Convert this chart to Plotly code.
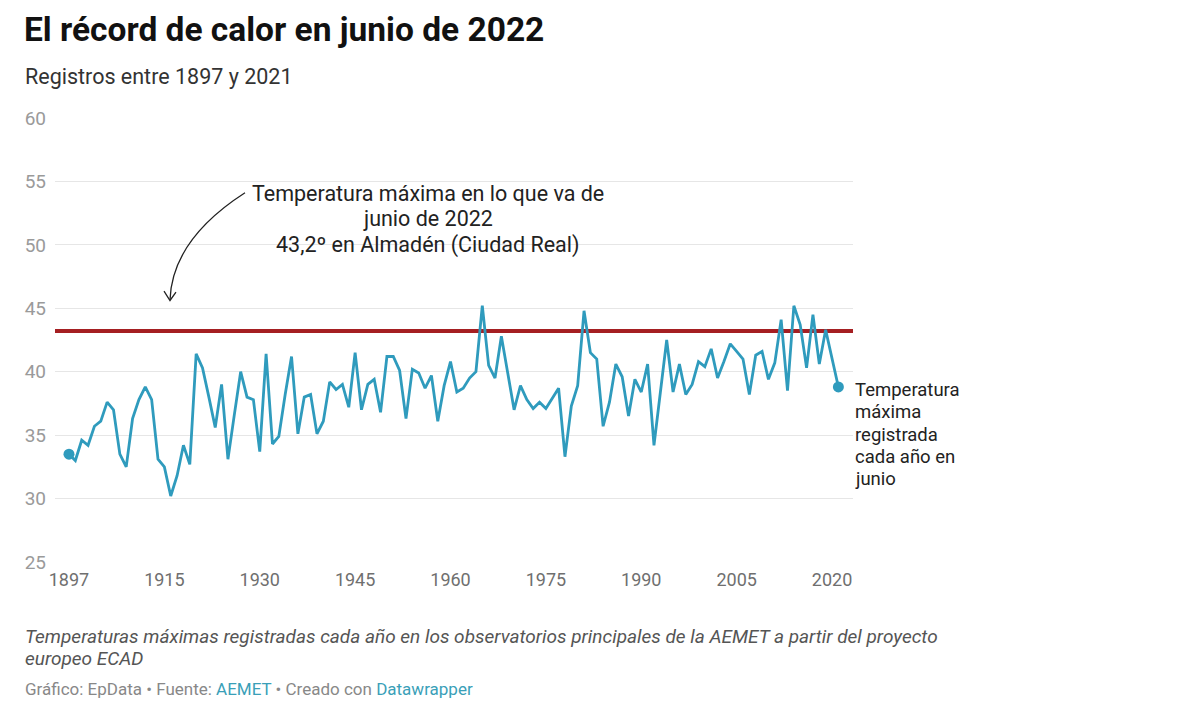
import plotly.graph_objects as go

# ---- data ----
years = ["1897"] + [str(y) for y in range(1901, 2022)]
temps = [
    33.5, 33.0, 34.6, 34.2, 35.7, 36.1, 37.6, 37.0, 33.5, 32.5,
    36.3, 37.8, 38.8, 37.8, 33.1, 32.5, 30.2, 31.8, 34.2, 32.7,
    41.4, 40.3, 38.0, 35.6, 39.0, 33.1, 36.6, 40.0, 38.0, 37.8,
    33.7, 41.4, 34.3, 34.9, 38.2, 41.2, 35.1, 38.0, 38.2, 35.1,
    36.1, 39.2, 38.6, 39.0, 37.2, 41.5, 37.0, 39.0, 39.4, 36.8,
    41.2, 41.2, 40.1, 36.3, 40.2, 39.9, 38.7, 39.7, 36.1, 38.9,
    40.8, 38.4, 38.7, 39.5, 40.0, 45.2, 40.5, 39.5, 42.8, 39.8,
    37.0, 38.9, 37.8, 37.1, 37.6, 37.1, 37.9, 38.7, 33.3, 37.3,
    38.9, 44.8, 41.5, 41.0, 35.7, 37.6, 40.6, 39.6, 36.5, 39.4,
    38.4, 40.6, 34.2, 38.5, 42.5, 38.4, 40.6, 38.2, 39.0, 40.8,
    40.4, 41.8, 39.5, 40.8, 42.2, 41.6, 41.0, 38.2, 41.3, 41.6,
    39.4, 40.7, 44.1, 38.5, 45.2, 43.7, 40.3, 44.5, 40.6, 43.3,
    41.0, 38.8,
]
record_2022 = 43.2
x_ticks = ["1897", "1915", "1930", "1945", "1960", "1975", "1990", "2005", "2020"]
y_ticks = [25, 30, 35, 40, 45, 50, 55, 60]

note_lines = ["Temperatura máxima en lo que va de", "junio de 2022",
              "43,2º en Almadén (Ciudad Real)"]
label_lines = ["Temperatura", "máxima", "registrada", "cada año en", "junio"]
footer_lines = ["Temperaturas máximas registradas cada año en los observatorios "
                "principales de la AEMET a partir del proyecto", "europeo ECAD"]

LINE = "#2f9bbd"
RED = "#a51f22"
FONT = "Roboto"

fig = go.Figure()

fig.add_trace(go.Scatter(
    x=years, y=temps, mode="lines",
    line=dict(color=LINE, width=2.8),
    hoverinfo="x+y", showlegend=False,
))
fig.add_trace(go.Scatter(
    x=[years[0], years[-1]], y=[temps[0], temps[-1]], mode="markers",
    marker=dict(color=LINE, size=11),
    hoverinfo="skip", showlegend=False,
))

# record line
fig.add_shape(type="line", xref="paper", yref="y", x0=0, x1=1,
              y0=record_2022, y1=record_2022,
              line=dict(color=RED, width=4), layer="below")

# curved arrow (paper coords)
fig.add_shape(type="path", xref="paper", yref="paper",
              path="M 0.2381 0.8315 Q 0.1466 0.7255 0.1441 0.5902",
              line=dict(color="#222", width=1.3))
fig.add_shape(type="path", xref="paper", yref="paper",
              path="M 0.1366 0.6100 L 0.1441 0.5890 L 0.1516 0.6078",
              line=dict(color="#222", width=1.3))

# left border
fig.add_shape(type="line", xref="paper", yref="paper",
              x0=-0.067, x1=-0.067, y0=-0.32, y1=1.27,
              line=dict(color="#e2e2e2", width=1.5))

ann = []
ann.append(dict(
    text="<b>El récord de calor en junio de 2022</b>",
    xref="paper", yref="paper", x=-0.0415, y=1.199,
    xanchor="left", yanchor="middle", showarrow=False,
    font=dict(family=FONT, size=33.5, color="#111"),
))
ann.append(dict(
    text="Registros entre 1897 y 2021",
    xref="paper", yref="paper", x=-0.040, y=1.0932,
    xanchor="left", yanchor="middle", showarrow=False,
    font=dict(family=FONT, size=21.5, color="#333"),
))
for txt, yy in zip(note_lines, [0.8293, 0.7729, 0.7143]):
    ann.append(dict(
        text=txt, xref="paper", yref="paper", x=0.4674, y=yy,
        xanchor="center", yanchor="middle", showarrow=False,
        font=dict(family=FONT, size=21.5, color="#222"),
    ))
for txt, yy in zip(label_lines, [0.3875, 0.3376, 0.2858, 0.2362, 0.1866]):
    ann.append(dict(
        text=txt, xref="paper", yref="paper", x=1.0, y=yy,
        xanchor="left", yanchor="middle", showarrow=False,
        font=dict(family=FONT, size=18.5, color="#222"),
    ))
for txt, yy in zip(footer_lines, [-0.1676, -0.2172]):
    ann.append(dict(
        text="<i>" + txt + "</i>", xref="paper", yref="paper", x=-0.040, y=yy,
        xanchor="left", yanchor="middle", showarrow=False,
        font=dict(family=FONT, size=19, color="#555"),
    ))
ann.append(dict(
    text="Gráfico: EpData • Fuente: <span style='color:#3a9fb8'>AEMET</span> • Creado con <span style='color:#3a9fb8'>Datawrapper</span>",
    xref="paper", yref="paper", x=-0.040, y=-0.2851,
    xanchor="left", yanchor="middle", align="left", showarrow=False,
    font=dict(family=FONT, size=17, color="#888"),
))

fig.update_layout(
    width=1192, height=694,
    margin=dict(l=47, r=347, t=110, b=140),
    paper_bgcolor="white", plot_bgcolor="white",
    font=dict(family=FONT),
    annotations=ann,
    showlegend=False,
    xaxis=dict(
        type="category", range=[-2.2, 123.3],
        tickmode="array", tickvals=x_ticks, ticktext=x_ticks,
        showgrid=False, zeroline=False, showline=False, ticks="",
        tickfont=dict(family=FONT, size=18, color="#6f6f6f"),
        ticklabelstandoff=5,
        fixedrange=True,
    ),
    yaxis=dict(
        range=[25, 60], tickmode="array", tickvals=y_ticks,
        showgrid=True, gridcolor="#e6e6e6", gridwidth=1,
        zeroline=False, showline=False, ticks="",
        tickfont=dict(family=FONT, size=19, color="#9a9a9a"),
        ticklabelstandoff=8,
        fixedrange=True,
    ),
)

fig.write_html("out.html")
